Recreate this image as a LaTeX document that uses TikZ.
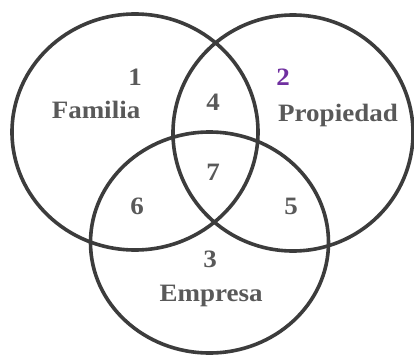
\documentclass[tikz,border=0pt]{standalone}
\usepackage{fontspec}
\setmainfont{Liberation Serif}[FakeStretch=1.08]
\definecolor{ringc}{HTML}{3C3C3C}
\definecolor{txtc}{HTML}{595959}
\definecolor{purp}{HTML}{7030A0}
\begin{document}
\begin{tikzpicture}[x=1pt,y=-1pt,
  ring/.style={draw=ringc,line width=3.6pt},
  lbl/.style={inner sep=0pt,anchor=base,text=txtc,font=\bfseries\fontsize{25}{30}\selectfont}]
\useasboundingbox[fill=white] (0,0) rectangle (414,356);
\draw[ring] (135,132) ellipse [x radius=123pt, y radius=118pt];
\draw[ring] (293,133) ellipse [x radius=120pt, y radius=118pt];
\draw[ring] (209.5,242.5) ellipse [x radius=119pt, y radius=110.5pt];
\node[lbl] (n1) at (135,85) {1};
\node[lbl] (fam) at (96,118) {Familia};
\node[lbl,text=purp] (n2) at (283,85) {2};
\node[lbl] (prop) at (338,121) {Propiedad};
\node[lbl] (n4) at (213,110) {4};
\node[lbl] (n7) at (213,180) {7};
\node[lbl] (n6) at (137,214) {6};
\node[lbl] (n5) at (291,214) {5};
\node[lbl] (n3) at (210,267) {3};
\node[lbl] (emp) at (211,301) {Empresa};
\end{tikzpicture}
\end{document}
